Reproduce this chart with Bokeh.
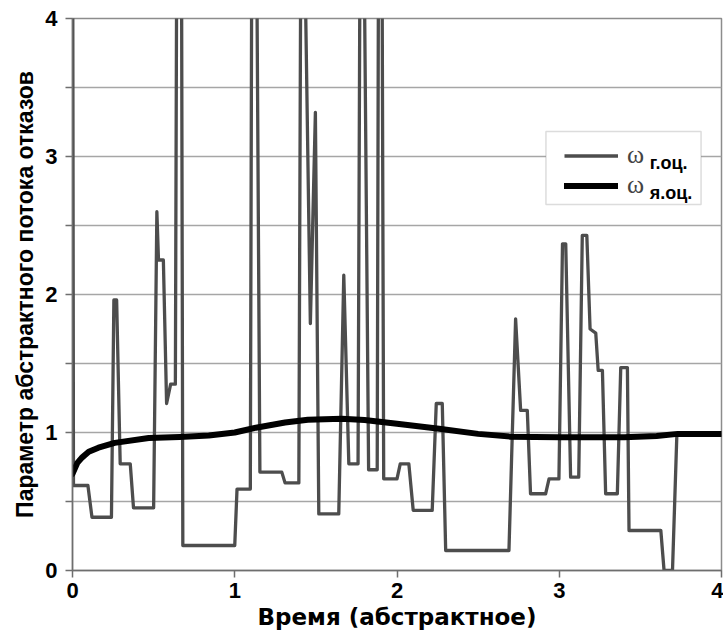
from bokeh.plotting import figure
from bokeh.models import FixedTicker, Legend, LegendItem, Label, ColumnDataSource, BoxAnnotation
from bokeh.embed import file_html
from bokeh.resources import INLINE

# ---- data ----
t_g = [0.000, 0.006, 0.095, 0.120, 0.240, 0.255, 0.272, 0.294, 0.356, 0.376,
       0.500, 0.520, 0.530, 0.560, 0.580, 0.605, 0.634, 0.645, 0.670, 0.680,
       1.000, 1.014, 1.096, 1.107, 1.130, 1.155, 1.290, 1.310, 1.395, 1.410,
       1.425, 1.466, 1.497, 1.518, 1.641, 1.672, 1.703, 1.760, 1.775, 1.790,
       1.825, 1.878, 1.888, 1.905, 1.918, 2.000, 2.020, 2.073, 2.100, 2.217,
       2.242, 2.279, 2.300, 2.690, 2.731, 2.762, 2.803, 2.823, 2.916, 2.937,
       2.998, 3.020, 3.040, 3.070, 3.120, 3.142, 3.170, 3.190, 3.225, 3.240,
       3.266, 3.286, 3.358, 3.379, 3.420, 3.430, 3.626, 3.646, 3.698, 3.725]
w_g = [5.50, 0.616, 0.616, 0.386, 0.386, 1.96, 1.96, 0.773, 0.773, 0.454,
       0.454, 2.60, 2.25, 2.25, 1.21, 1.35, 1.35, 5.50, 5.50, 0.181,
       0.181, 0.59, 0.59, 5.50, 5.50, 0.713, 0.713, 0.635, 0.635, 5.50,
       5.00, 1.79, 3.32, 0.41, 0.41, 2.14, 0.773, 0.773, 5.50, 5.50,
       0.73, 0.73, 5.50, 5.50, 0.664, 0.664, 0.773, 0.773, 0.435, 0.435,
       1.21, 1.21, 0.145, 0.145, 1.824, 1.16, 1.16, 0.556, 0.556, 0.664,
       0.664, 2.367, 2.367, 0.676, 0.676, 2.428, 2.428, 1.75, 1.72, 1.45,
       1.45, 0.556, 0.556, 1.47, 1.47, 0.29, 0.29, 0.0, 0.0, 0.99]

t_y = [0.00, 0.03, 0.06, 0.10, 0.16, 0.26, 0.47, 0.66, 0.84, 1.00, 1.13, 1.31,
       1.45, 1.66, 1.80, 2.00, 2.26, 2.50, 2.70, 3.00, 3.40, 3.60, 3.73, 4.00]
w_y = [0.70, 0.78, 0.82, 0.86, 0.89, 0.925, 0.96, 0.968, 0.978, 1.00, 1.035, 1.072,
       1.092, 1.10, 1.09, 1.063, 1.027, 0.99, 0.97, 0.965, 0.966, 0.975, 0.99, 0.99]

x_ticks = [0, 1, 2, 3, 4]
y_ticks = [0, 1, 2, 3, 4]
y_minor = [0.5, 1.5, 2.5, 3.5]
legend_names = ["\u03c9", "\u03c9"]
legend_subs = ["г.оц.", "я.оц."]
x_title = "Время (абстрактное)"
y_title = "Параметр абстрактного потока отказов"

FONT = "Liberation Sans"

p = figure(width=723, height=635, x_range=(0, 4), y_range=(0, 4),
           output_backend="svg", toolbar_location=None,
           min_border_left=72, min_border_right=2, min_border_top=18,
           min_border_bottom=65)
p.background_fill_color = "white"
p.border_fill_color = "white"
p.outline_line_color = "#8c8c8c"
p.outline_line_width = 1.5

src_g = ColumnDataSource(dict(t=t_g, w=w_g))
src_y = ColumnDataSource(dict(t=t_y, w=w_y))
r_g = p.line("t", "w", source=src_g, line_color="#4d4d4d", line_width=3.3,
             line_join="round")
r_y = p.line("t", "w", source=src_y, line_color="black", line_width=6,
             line_join="round", line_cap="round")

# axes
p.xaxis.ticker = FixedTicker(ticks=x_ticks)
p.yaxis.ticker = FixedTicker(ticks=y_ticks, minor_ticks=y_minor)
for ax in (p.xaxis, p.yaxis):
    ax.axis_line_color = "#6e6e6e"
    ax.axis_line_width = 1.5
    ax.major_tick_line_color = "#6e6e6e"
    ax.major_tick_line_width = 1.5
    ax.major_tick_out = 7
    ax.major_tick_in = 0
    ax.major_label_text_font = FONT
    ax.major_label_text_font_style = "bold"
    ax.major_label_text_font_size = "22px"
    ax.major_label_text_color = "black"
    ax.axis_label_text_font_style = "bold"
    ax.axis_label_text_color = "black"
p.xaxis.minor_tick_line_color = None
p.xaxis.major_label_standoff = 5
p.xaxis.axis_label = x_title
p.xaxis.axis_label_standoff = 3
p.xaxis.axis_label_text_font = "DejaVu Sans"
p.xaxis.axis_label_text_font_size = "23px"
p.yaxis.minor_tick_line_color = "#6e6e6e"
p.yaxis.minor_tick_line_width = 1.5
p.yaxis.minor_tick_out = 7
p.yaxis.minor_tick_in = 0
p.yaxis.major_label_standoff = 8
p.yaxis.axis_label = y_title
p.yaxis.axis_label_standoff = 4
p.yaxis.axis_label_text_font = FONT
p.yaxis.axis_label_text_font_size = "23px"

p.xgrid.grid_line_color = None
p.ygrid.grid_line_color = "#a6a6a6"
p.ygrid.grid_line_width = 1.5
p.ygrid.minor_grid_line_color = "#a6a6a6"
p.ygrid.minor_grid_line_width = 1.5

# legend frame (white box with grey border)
legend_box = BoxAnnotation(left=2.918, right=3.874, bottom=2.652, top=3.181,
                           fill_color="white", fill_alpha=1.0,
                           line_color="#8c8c8c", line_width=1.5,
                           level="annotation")
p.add_layout(legend_box)

legend = Legend(items=[LegendItem(label=legend_names[0], renderers=[r_g]),
                       LegendItem(label=legend_names[1], renderers=[r_y])],
                location=(492, 370), orientation="vertical",
                padding=8, spacing=0, margin=0,
                glyph_width=54, glyph_height=29, label_height=29,
                label_standoff=9, label_width=40,
                label_text_font="Liberation Serif", label_text_font_size="26px",
                border_line_color=None, background_fill_alpha=0.0)
p.add_layout(legend, "center")

sub_x = 3.558
sub_y = [2.95, 2.735]
for s, yy in zip(legend_subs, sub_y):
    p.add_layout(Label(x=sub_x, y=yy, text=s, text_font=FONT, level="overlay",
                       text_font_style="bold", text_font_size="18px",
                       text_color="black", text_baseline="alphabetic"))

open("out.html", "w").write(file_html(p, INLINE))
